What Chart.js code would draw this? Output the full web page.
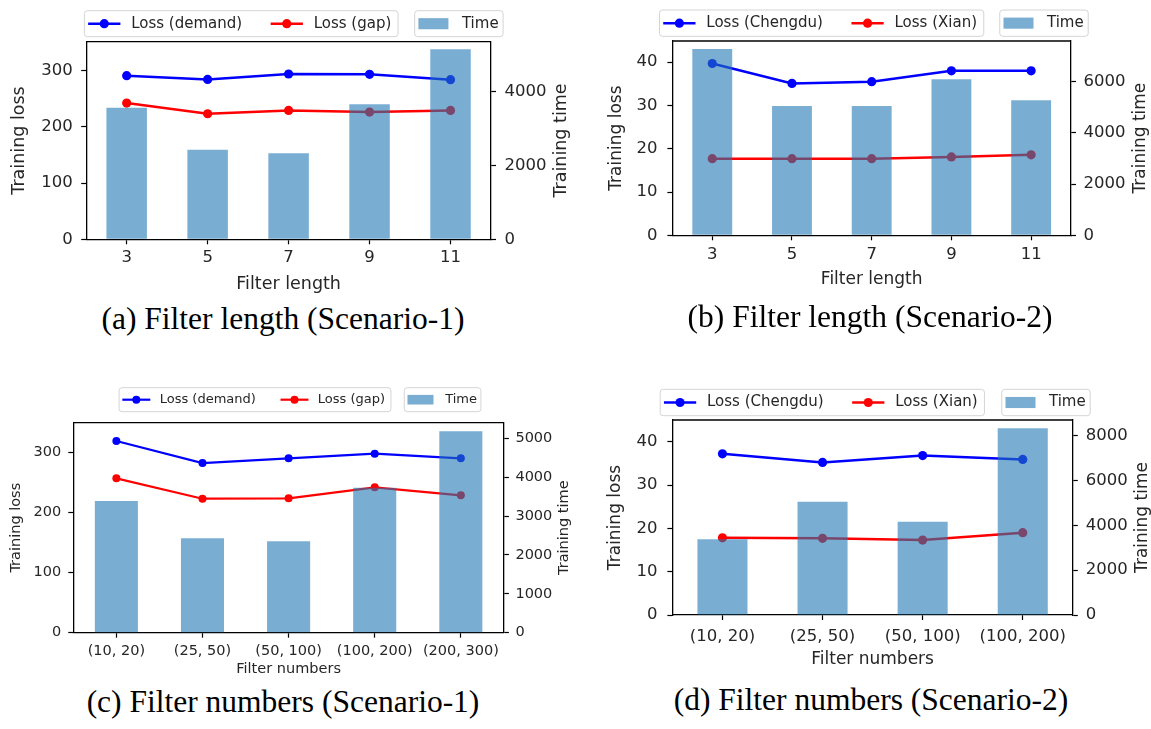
<!DOCTYPE html>
<html>
<head>
<meta charset="utf-8">
<script src="https://cdn.jsdelivr.net/npm/chart.js@4.4.1/dist/chart.umd.min.js"></script>
<style>
  body { margin: 0; background: #fff; }
  #page { position: relative; width: 1151px; height: 729px; overflow: hidden; background: #fff; }
  canvas { position: absolute; }
  .cap {
    position: absolute; transform: translateX(-50%); white-space: nowrap;
    font-family: "Liberation Serif", "Times New Roman", serif; font-size: 31.5px;
    line-height: 1; color: #000;
  }
</style>
</head>
<body>
<div id="page">
  <canvas id="chartA"></canvas>
  <canvas id="chartB"></canvas>
  <canvas id="chartC"></canvas>
  <canvas id="chartD"></canvas>
  <div class="cap" style="left:283px;top:303px">(a) Filter length (Scenario-1)</div>
  <div class="cap" style="left:870px;top:301px">(b) Filter length (Scenario-2)</div>
  <div class="cap" style="left:283px;top:686px">(c) Filter numbers (Scenario-1)</div>
  <div class="cap" style="left:871px;top:684px">(d) Filter numbers (Scenario-2)</div>
</div>
<script>
// categories
const filterLengths = ["3", "5", "7", "9", "11"];
const filterNumbersS1 = ["(10, 20)", "(25, 50)", "(50, 100)", "(100, 200)", "(200, 300)"];
const filterNumbersS2 = ["(10, 20)", "(25, 50)", "(50, 100)", "(100, 200)"];

// (a) filter length, scenario 1
const lossDemandA = [290.6, 284, 293.6, 293, 283.5];
const lossGapA = [242, 223, 229, 226, 229];
const timeA = [3557, 2422, 2324, 3649, 5135];

// (b) filter length, scenario 2
const lossChengduB = [39.7, 35.1, 35.5, 38.0, 38.0];
const lossXianB = [17.7, 17.7, 17.7, 18.1, 18.6];
const timeB = [7277, 5051, 5051, 6094, 5273];

// (c) filter numbers, scenario 1
const lossDemandC = [319.5, 282.8, 290.7, 298.3, 290.7];
const lossGapC = [257.3, 223.3, 223.9, 242.3, 229];
const timeC = [3386, 2427, 2350, 3728, 5177];

// (d) filter numbers, scenario 2
const lossChengduD = [37.2, 35.2, 36.8, 35.9];
const lossXianD = [17.8, 17.7, 17.3, 19.0];
const timeD = [3379, 5058, 4165, 8335];

Chart.defaults.font.family = "'DejaVu Sans', sans-serif";
Chart.defaults.color = "#262626";

const BAR_FILL = "rgba(31,119,180,0.6)";
const TEXT = "#262626";

function roundRect(ctx, x, y, w, h, r) {
  ctx.beginPath();
  ctx.moveTo(x + r, y);
  ctx.arcTo(x + w, y, x + w, y + h, r);
  ctx.arcTo(x + w, y + h, x, y + h, r);
  ctx.arcTo(x, y + h, x, y, r);
  ctx.arcTo(x, y, x + w, y, r);
  ctx.closePath();
}

// legend drawn like the matplotlib one: two boxes, lines first, then the bar patch
function drawLegend(chart, p) {
  const ctx = chart.ctx;
  const lg = p.legend;
  const fs = lg.size;
  const x0 = lg.x - p.box[0], y0 = lg.y - p.box[1];
  const mid = y0 + lg.h / 2;
  ctx.save();
  ctx.font = fs + "px 'DejaVu Sans'";
  ctx.textBaseline = "middle";
  ctx.textAlign = "left";
  const lines = chart.data.datasets.filter(d => d.type === "line");
  const bar = chart.data.datasets.find(d => d.type === "bar");
  const pad = 0.25 * fs, hl = 2.15 * fs, tp = 0.72 * fs, cs = 1.9 * fs, rp = 0.45 * fs;

  let w = pad;
  lines.forEach((d, i) => {
    if (i) w += cs;
    w += hl + tp + ctx.measureText(d.label).width;
  });
  w += rp;
  roundRect(ctx, x0, y0, w, lg.h, 3);
  ctx.fillStyle = "#fff";
  ctx.fill();
  ctx.strokeStyle = "#d4d4d4";
  ctx.lineWidth = 1;
  ctx.stroke();

  let x = x0 + pad;
  lines.forEach((d, i) => {
    if (i) x += cs;
    ctx.strokeStyle = d.borderColor;
    ctx.lineWidth = p.lw;
    ctx.beginPath();
    ctx.moveTo(x, mid);
    ctx.lineTo(x + hl, mid);
    ctx.stroke();
    ctx.fillStyle = d.borderColor;
    ctx.beginPath();
    ctx.arc(x + hl / 2, mid, p.pr, 0, Math.PI * 2);
    ctx.fill();
    x += hl + tp;
    ctx.fillStyle = TEXT;
    ctx.fillText(d.label, x, mid);
    x += ctx.measureText(d.label).width;
  });

  const bx = x0 + w + lg.gap;
  const tw = ctx.measureText(bar.label).width;
  const bw = pad + 2 * fs + 0.9 * fs + tw + 0.3 * fs;
  roundRect(ctx, bx, y0, bw, lg.h, 3);
  ctx.fillStyle = "#fff";
  ctx.fill();
  ctx.strokeStyle = "#d4d4d4";
  ctx.lineWidth = 1;
  ctx.stroke();
  ctx.fillStyle = BAR_FILL;
  ctx.fillRect(bx + pad, mid - 0.37 * fs, 2 * fs, 0.74 * fs);
  ctx.fillStyle = TEXT;
  ctx.fillText(bar.label, bx + pad + 2.9 * fs, mid);
  ctx.restore();
}

// tick values every `step` from 0 up to `max`, like matplotlib's locator
function stepTicks(step, max) {
  return s => {
    s.ticks = [];
    for (let v = 0; v <= max + 1e-9; v += step) s.ticks.push({ value: v });
  };
}

function makePanel(p) {
  const [cx, cy, cw, ch] = p.box;
  const [L, T, R, B] = p.area;
  const canvas = document.getElementById(p.id);
  canvas.width = cw;
  canvas.height = ch;
  canvas.style.left = cx + "px";
  canvas.style.top = cy + "px";

  const tickFont = { size: p.tick };
  const titleFont = { size: p.label, lineHeight: 1 };
  const plain = v => String(v);
  const lineSet = (label, data, color) => ({
    type: "line", label: label, data: data, yAxisID: "y", order: 1,
    borderColor: color, backgroundColor: color, borderWidth: p.lw,
    pointRadius: p.pr, pointBackgroundColor: color, pointBorderWidth: 0, tension: 0
  });

  const decor = {
    id: "decor",
    afterDraw(chart) {
      const ctx = chart.ctx;
      const a = chart.chartArea;
      ctx.save();
      // top spine
      ctx.strokeStyle = "#000";
      ctx.lineWidth = 1.3;
      ctx.beginPath();
      ctx.moveTo(a.left, a.top);
      ctx.lineTo(a.right, a.top);
      ctx.stroke();
      // right axis title, reading bottom to top
      ctx.translate(p.y1TitleX - cx, (a.top + a.bottom) / 2);
      ctx.rotate(-Math.PI / 2);
      ctx.font = p.label + "px 'DejaVu Sans'";
      ctx.fillStyle = TEXT;
      ctx.textAlign = "center";
      ctx.textBaseline = "middle";
      ctx.fillText("Training time", 0, 0);
      ctx.restore();
      drawLegend(chart, p);
    }
  };

  return new Chart(canvas, {
    type: "bar",
    data: {
      labels: p.labels,
      datasets: [
        lineSet(p.names[0], p.loss1, "#0000ff"),
        lineSet(p.names[1], p.loss2, "#ff0000"),
        {
          type: "bar", label: "Time", data: p.time, yAxisID: "y1", order: 0,
          backgroundColor: BAR_FILL, borderWidth: 0, barPercentage: 0.5, categoryPercentage: 1
        }
      ]
    },
    options: {
      responsive: false,
      animation: false,
      events: [],
      layout: { padding: { top: T - cy, left: 0, right: 0, bottom: 0 } },
      plugins: { legend: { display: false }, tooltip: { enabled: false } },
      scales: {
        x: {
          offset: true,
          grid: { offset: false, drawOnChartArea: false, tickLength: 5, color: "#000", tickWidth: 1.2 },
          border: { display: true, color: "#000", width: 1.3 },
          ticks: { font: tickFont, padding: p.xpad, maxRotation: 0, autoSkip: false, color: TEXT },
          title: {
            display: true, text: p.xTitle, font: titleFont, color: TEXT,
            padding: { top: 0, bottom: cy + ch - p.xTitleY - p.label / 2 }
          },
          afterFit: s => { s.height = cy + ch - B; }
        },
        y: {
          position: "left", min: 0, max: p.yMax,
          grid: { drawOnChartArea: false, tickLength: 5, color: "#000", tickWidth: 1.2 },
          border: { display: true, color: "#000", width: 1.3 },
          ticks: { font: tickFont, padding: p.ypad, color: TEXT, callback: plain },
          afterBuildTicks: stepTicks(p.yStep, p.yMax),
          title: {
            display: true, text: "Training loss", font: titleFont, color: TEXT,
            padding: { top: p.yTitleX - cx - p.label / 2, bottom: 0 }
          },
          afterFit: s => { s.width = L - cx; }
        },
        y1: {
          position: "right", min: 0, max: p.tMax,
          grid: { drawOnChartArea: false, tickLength: 5, color: "#000", tickWidth: 1.2 },
          border: { display: true, color: "#000", width: 1.3 },
          ticks: { font: tickFont, padding: p.y1pad, color: TEXT, callback: plain },
          afterBuildTicks: stepTicks(p.tStep, p.tMax),
          afterFit: s => { s.width = cx + cw - R; }
        }
      }
    },
    plugins: [decor]
  });
}

makePanel({
  id: "chartA", box: [0, 0, 575, 300], area: [86.2, 41.7, 491, 239.3],
  labels: filterLengths, names: ["Loss (demand)", "Loss (gap)"],
  loss1: lossDemandA, loss2: lossGapA, time: timeA,
  yMax: 351, yStep: 100, tMax: 5341, tStep: 2000,
  tick: 16.5, label: 17.5, xTitle: "Filter length", xTitleY: 284.5,
  yTitleX: 19.2, y1TitleX: 561, xpad: 3.5, ypad: 8.5, y1pad: 8.5, lw: 2.5, pr: 4.6,
  legend: { x: 84.4, y: 10.7, h: 26, size: 15, gap: 16.6 }
});

makePanel({
  id: "chartB", box: [575, 0, 576, 300], area: [672.4, 41, 1071, 235.3],
  labels: filterLengths, names: ["Loss (Chengdu)", "Loss (Xian)"],
  loss1: lossChengduB, loss2: lossXianB, time: timeB,
  yMax: 44.9, yStep: 10, tMax: 7590, tStep: 2000,
  tick: 16.5, label: 17, xTitle: "Filter length", xTitleY: 280,
  yTitleX: 617, y1TitleX: 1140.8, xpad: 4.5, ypad: 10, y1pad: 7.5, lw: 2.5, pr: 4.6,
  legend: { x: 659.5, y: 10, h: 26.3, size: 15, gap: 16 }
});

makePanel({
  id: "chartC", box: [0, 370, 575, 310], area: [73.3, 422.7, 503.9, 632.7],
  labels: filterNumbersS1, names: ["Loss (demand)", "Loss (gap)"],
  loss1: lossDemandC, loss2: lossGapC, time: timeC,
  yMax: 350, yStep: 100, tMax: 5399, tStep: 1000,
  tick: 14.5, label: 14.5, xTitle: "Filter numbers", xTitleY: 669,
  yTitleX: 16, y1TitleX: 564.7, xpad: 5, ypad: 7, y1pad: 6.5, lw: 2.2, pr: 4,
  legend: { x: 119.1, y: 387.7, h: 24, size: 13, gap: 13.3 }
});

makePanel({
  id: "chartD", box: [575, 370, 576, 310], area: [672.4, 420, 1072.8, 615],
  labels: filterNumbersS2, names: ["Loss (Chengdu)", "Loss (Xian)"],
  loss1: lossChengduD, loss2: lossXianD, time: timeD,
  yMax: 45, yStep: 10, tMax: 8705, tStep: 2000,
  tick: 16.5, label: 17, xTitle: "Filter numbers", xTitleY: 660,
  yTitleX: 616, y1TitleX: 1142.6, xpad: 6.5, ypad: 10, y1pad: 8, lw: 2.5, pr: 4.6,
  legend: { x: 660.2, y: 389.3, h: 26.4, size: 15, gap: 17.3 }
});
</script>
</body>
</html>
